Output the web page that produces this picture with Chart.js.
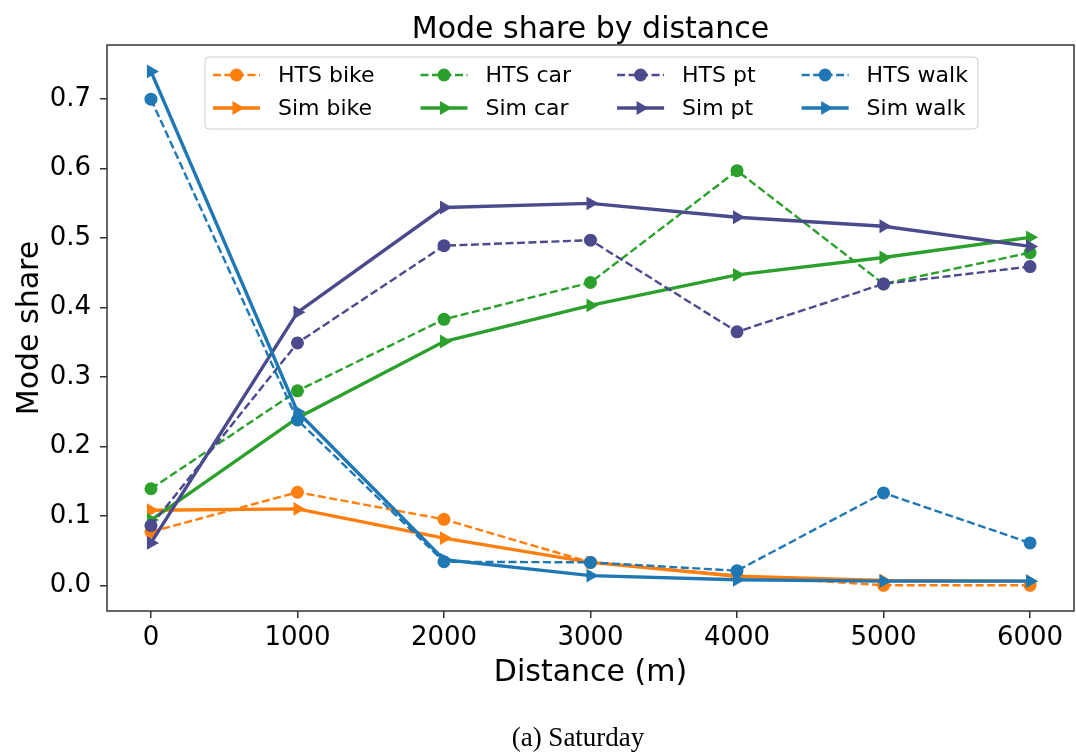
<!DOCTYPE html>
<html>
<head>
<meta charset="utf-8">
<script src="https://cdn.jsdelivr.net/npm/chart.js@4.4.1/dist/chart.umd.min.js"></script>
<style>
  html, body { margin: 0; padding: 0; background: #fff; }
  #wrap { width: 1076px; height: 755px; position: relative; }
</style>
</head>
<body>
<div id="wrap"><canvas id="modeChart"></canvas></div>
<script>
// distance bins (m) and shares per mode
var distances = [0, 1000, 2000, 3000, 4000, 5000, 6000];
var htsBike = [0.077, 0.134, 0.095, 0.033, 0.014, 0.000, 0.000];
var simBike = [0.108, 0.110, 0.068, 0.033, 0.013, 0.007, 0.006];
var htsCar  = [0.139, 0.280, 0.383, 0.436, 0.597, 0.434, 0.479];
var simCar  = [0.094, 0.241, 0.351, 0.403, 0.447, 0.472, 0.501];
var htsPt   = [0.086, 0.349, 0.489, 0.497, 0.365, 0.434, 0.459];
var simPt   = [0.061, 0.393, 0.544, 0.550, 0.530, 0.517, 0.488];
var htsWalk = [0.700, 0.238, 0.034, 0.033, 0.021, 0.133, 0.061];
var simWalk = [0.740, 0.250, 0.037, 0.014, 0.008, 0.006, 0.006];

var xTicks = [0, 1000, 2000, 3000, 4000, 5000, 6000];
var yTicks = [0.0, 0.1, 0.2, 0.3, 0.4, 0.5, 0.6, 0.7];

var ORANGE = '#ff7f0e', GREEN = '#2ca02c', PT = '#4a4a8c', BLUE = '#1f77b4';
var FONT = "'DejaVu Sans', sans-serif";

var lines = [
    { label: 'HTS bike', vals: htsBike, color: ORANGE, hts: true },
    { label: 'Sim bike', vals: simBike, color: ORANGE, hts: false },
    { label: 'HTS car',  vals: htsCar,  color: GREEN,  hts: true },
    { label: 'Sim car',  vals: simCar,  color: GREEN,  hts: false },
    { label: 'HTS pt',   vals: htsPt,   color: PT,     hts: true },
    { label: 'Sim pt',   vals: simPt,   color: PT,     hts: false },
    { label: 'HTS walk', vals: htsWalk, color: BLUE,   hts: true },
    { label: 'Sim walk', vals: simWalk, color: BLUE,   hts: false }
];

function pairs(vals) {
    return distances.map(function (d, i) { return { x: d, y: vals[i] }; });
}

var datasets = lines.map(function (l, i) {
    return {
        label: l.label, data: pairs(l.vals),
        borderColor: l.color, backgroundColor: l.color, pointBackgroundColor: l.color,
        borderWidth: l.hts ? 2.4 : 3.4, borderDash: l.hts ? [8, 3.5] : [],
        pointStyle: l.hts ? 'circle' : 'triangle', pointRotation: l.hts ? 0 : 90,
        pointRadius: l.hts ? 6.5 : 8, pointBorderWidth: 0, pointHoverRadius: 0,
        tension: 0, fill: false,
        order: lines.length - i   // later series on top
    };
});

// frame, title, legend box, caption
var decor = {
    id: 'decor',
    afterDraw: function (chart) {
        var ctx = chart.ctx, a = chart.chartArea;
        ctx.save();
        ctx.strokeStyle = '#333'; ctx.lineWidth = 1.5;
        ctx.strokeRect(a.left, a.top, a.right - a.left, a.bottom - a.top);

        ctx.fillStyle = '#000';
        ctx.textAlign = 'center'; ctx.textBaseline = 'alphabetic';
        ctx.font = '30px ' + FONT;
        ctx.fillText('Mode share by distance', (a.left + a.right) / 2, 38);

        ctx.font = "27px 'Liberation Serif', serif";
        ctx.fillText('(a) Saturday', 578, 746);

        // legend: 4 columns, HTS on top row, Sim below
        ctx.font = '22px ' + FONT;
        var boxL = 205, boxT = 57, rowY = [75, 108], pad = 8, handle = 47, gapTxt = 18, colGap = 46;
        var cols = [], x = boxL + pad;
        for (var c = 0; c < 4; c++) {
            var w = Math.max(ctx.measureText(lines[2 * c].label).width, ctx.measureText(lines[2 * c + 1].label).width);
            cols.push(x);
            x += handle + gapTxt + w + (c < 3 ? colGap : 0);
        }
        var boxR = x + 10;
        ctx.fillStyle = 'rgba(255,255,255,0.8)';
        ctx.strokeStyle = '#cccccc'; ctx.lineWidth = 1;
        ctx.beginPath(); ctx.roundRect(boxL, boxT, boxR - boxL, 72, 4); ctx.fill(); ctx.stroke();

        ctx.textAlign = 'left'; ctx.textBaseline = 'middle';
        for (var k = 0; k < lines.length; k++) {
            var l = lines[k], cx = cols[Math.floor(k / 2)], y = rowY[k % 2];
            var ds = chart.data.datasets[k];
            ctx.strokeStyle = l.color; ctx.lineWidth = ds.borderWidth;
            ctx.setLineDash(ds.borderDash);
            ctx.beginPath(); ctx.moveTo(cx, y); ctx.lineTo(cx + handle, y); ctx.stroke();
            ctx.setLineDash([]);
            ctx.fillStyle = l.color;
            Chart.helpers.drawPoint(ctx, { pointStyle: ds.pointStyle, rotation: ds.pointRotation, radius: ds.pointRadius, borderWidth: 0 }, cx + handle / 2, y);
            ctx.fillStyle = '#000';
            ctx.fillText(l.label, cx + handle + gapTxt, y + 1);
        }
        ctx.restore();
    }
};

new Chart(document.getElementById('modeChart'), {
    type: 'line',
    data: { datasets: datasets },
    options: {
        responsive: true, maintainAspectRatio: false, animation: false,
        layout: { autoPadding: false, padding: { left: 0, right: 2, top: 45, bottom: 55 } },
        plugins: { legend: { display: false }, tooltip: { enabled: false }, title: { display: false } },
        scales: {
            x: {
                type: 'linear', min: -300, max: 6300,
                afterBuildTicks: function (s) { s.ticks = xTicks.map(function (v) { return { value: v }; }); },
                afterFit: function (s) { s.height = 89; s.paddingLeft = 0; s.paddingRight = 0; },
                ticks: { color: '#000', font: { family: FONT, size: 26 }, padding: 5, maxRotation: 0,
                         callback: function (v) { return String(v); } },
                grid: { drawOnChartArea: false, color: '#333', tickLength: 7, lineWidth: 1.5 },
                border: { display: false },
                title: { display: true, text: 'Distance (m)', color: '#000', font: { family: FONT, size: 30 }, padding: { top: 0, bottom: 9 } }
            },
            y: {
                type: 'linear', min: -0.037, max: 0.778,
                afterBuildTicks: function (s) { s.ticks = yTicks.map(function (v) { return { value: v }; }); },
                afterFit: function (s) { s.width = 107; },
                ticks: { color: '#000', font: { family: FONT, size: 26 }, padding: 9,
                         callback: function (v) { return v.toFixed(1); } },
                grid: { drawOnChartArea: false, color: '#333', tickLength: 7, lineWidth: 1.5 },
                border: { display: false },
                title: { display: true, text: 'Mode share', color: '#000', font: { family: FONT, size: 30 }, padding: { top: 12, bottom: 0 } }
            }
        }
    },
    plugins: [decor]
});
</script>
</body>
</html>
